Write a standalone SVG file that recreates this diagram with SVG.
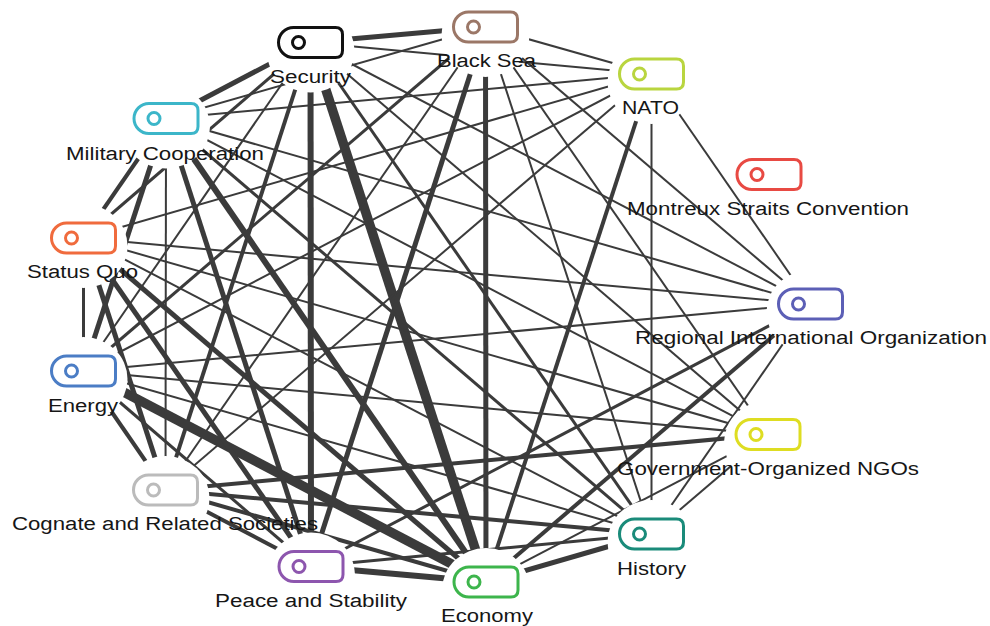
<svg xmlns="http://www.w3.org/2000/svg" width="990" height="626" viewBox="0 0 990 626">
<style>
.lbl{font-family:"Liberation Sans",Arial,sans-serif;font-size:18px;fill:#161616;text-anchor:middle}
.cn line{stroke:#3b3b3b;stroke-linecap:butt}
.w2{stroke-width:2}.w3{stroke-width:3}.w4{stroke-width:4}.w5{stroke-width:5}.w6{stroke-width:6}.w10{stroke-width:9.5}
.tag{fill:none;stroke-width:3}
</style>
<defs>
<g id="tagshape">
<path d="M -17,-15 H 25 Q 32,-15 32,-8 V 8 Q 32,15 25,15 H -17 A 15 15 0 0 1 -17,-15 Z"/>
<circle cx="-12" cy="0" r="6"/>
</g>
<mask id="cut" maskUnits="userSpaceOnUse" x="0" y="0" width="990" height="626">
<rect x="0" y="0" width="990" height="626" fill="#fff"/>
<g fill="#000">
<ellipse cx="310.5" cy="50.5" rx="44" ry="42"/>
<ellipse cx="485.5" cy="35" rx="44" ry="42"/>
<ellipse cx="651.5" cy="82" rx="44" ry="42"/>
<ellipse cx="810.5" cy="312" rx="44" ry="42"/>
<ellipse cx="768" cy="442.5" rx="44" ry="42"/>
<ellipse cx="651.5" cy="542" rx="44" ry="42"/>
<ellipse cx="486" cy="590" rx="44" ry="42"/>
<ellipse cx="311" cy="574.5" rx="44" ry="42"/>
<ellipse cx="165.5" cy="498" rx="44" ry="42"/>
<ellipse cx="83.5" cy="379" rx="44" ry="42"/>
<ellipse cx="83.5" cy="246" rx="44" ry="42"/>
<ellipse cx="166" cy="126.5" rx="44" ry="42"/>
</g>
</mask>
</defs>
<rect width="990" height="626" fill="#fff"/>
<g id="connectors" class="cn" mask="url(#cut)">
<line class="w5" x1="310.5" y1="42.5" x2="485.5" y2="27"/>
<line class="w2" x1="310.5" y1="42.5" x2="651.5" y2="74"/>
<line class="w5" x1="310.5" y1="42.5" x2="166" y2="118.5"/>
<line class="w3" x1="310.5" y1="42.5" x2="83.5" y2="238"/>
<line class="w2" x1="310.5" y1="42.5" x2="83.5" y2="371"/>
<line class="w4" x1="310.5" y1="42.5" x2="165.5" y2="490"/>
<line class="w6" x1="310.5" y1="42.5" x2="311" y2="566.5"/>
<line class="w10" x1="310.5" y1="42.5" x2="486" y2="582"/>
<line class="w3" x1="310.5" y1="42.5" x2="651.5" y2="534"/>
<line class="w2" x1="310.5" y1="42.5" x2="768" y2="434.5"/>
<line class="w2" x1="310.5" y1="42.5" x2="810.5" y2="304"/>
<line class="w2" x1="485.5" y1="27" x2="651.5" y2="74"/>
<line class="w2" x1="485.5" y1="27" x2="166" y2="118.5"/>
<line class="w3" x1="485.5" y1="27" x2="83.5" y2="371"/>
<line class="w2" x1="485.5" y1="27" x2="165.5" y2="490"/>
<line class="w5" x1="485.5" y1="27" x2="311" y2="566.5"/>
<line class="w5" x1="485.5" y1="27" x2="486" y2="582"/>
<line class="w2" x1="485.5" y1="27" x2="651.5" y2="534"/>
<line class="w2" x1="485.5" y1="27" x2="768" y2="434.5"/>
<line class="w2" x1="485.5" y1="27" x2="810.5" y2="304"/>
<line class="w2" x1="651.5" y1="74" x2="166" y2="118.5"/>
<line class="w2" x1="651.5" y1="74" x2="83.5" y2="238"/>
<line class="w2" x1="651.5" y1="74" x2="83.5" y2="371"/>
<line class="w2" x1="651.5" y1="74" x2="165.5" y2="490"/>
<line class="w4" x1="651.5" y1="74" x2="486" y2="582"/>
<line class="w2" x1="651.5" y1="74" x2="651.5" y2="534"/>
<line class="w2" x1="651.5" y1="74" x2="810.5" y2="304"/>
<line class="w2" x1="810.5" y1="304" x2="166" y2="118.5"/>
<line class="w2" x1="810.5" y1="304" x2="83.5" y2="238"/>
<line class="w2" x1="810.5" y1="304" x2="83.5" y2="371"/>
<line class="w3" x1="810.5" y1="304" x2="311" y2="566.5"/>
<line class="w4" x1="810.5" y1="304" x2="486" y2="582"/>
<line class="w2" x1="810.5" y1="304" x2="651.5" y2="534"/>
<line class="w2" x1="768" y1="434.5" x2="166" y2="118.5"/>
<line class="w2" x1="768" y1="434.5" x2="83.5" y2="238"/>
<line class="w2" x1="768" y1="434.5" x2="83.5" y2="371"/>
<line class="w4" x1="768" y1="434.5" x2="165.5" y2="490"/>
<line class="w2" x1="768" y1="434.5" x2="486" y2="582"/>
<line class="w2" x1="768" y1="434.5" x2="651.5" y2="534"/>
<line class="w4" x1="651.5" y1="534" x2="165.5" y2="490"/>
<line class="w5" x1="651.5" y1="534" x2="486" y2="582"/>
<line class="w3" x1="651.5" y1="534" x2="311" y2="566.5"/>
<line class="w2" x1="651.5" y1="534" x2="83.5" y2="371"/>
<line class="w2" x1="651.5" y1="534" x2="83.5" y2="238"/>
<line class="w3" x1="651.5" y1="534" x2="166" y2="118.5"/>
<line class="w6" x1="486" y1="582" x2="166" y2="118.5"/>
<line class="w5" x1="486" y1="582" x2="83.5" y2="238"/>
<line class="w10" x1="486" y1="582" x2="83.5" y2="371"/>
<line class="w4" x1="486" y1="582" x2="165.5" y2="490"/>
<line class="w6" x1="486" y1="582" x2="311" y2="566.5"/>
<line class="w5" x1="311" y1="566.5" x2="166" y2="118.5"/>
<line class="w5" x1="311" y1="566.5" x2="83.5" y2="238"/>
<line class="w3" x1="311" y1="566.5" x2="83.5" y2="371"/>
<line class="w4" x1="311" y1="566.5" x2="165.5" y2="490"/>
<line class="w2" x1="165.5" y1="490" x2="166" y2="118.5"/>
<line class="w5" x1="165.5" y1="490" x2="83.5" y2="238"/>
<line class="w4" x1="165.5" y1="490" x2="83.5" y2="371"/>
<line class="w5" x1="83.5" y1="371" x2="166" y2="118.5"/>
<line class="w3" x1="83.5" y1="371" x2="83.5" y2="238"/>
<line class="w4" x1="83.5" y1="238" x2="166" y2="118.5"/>
</g>
<g id="node-security"><use href="#tagshape" class="tag" stroke="#111111" transform="translate(310.5,42.5)"/><text class="lbl" x="310.5" y="83" textLength="81" lengthAdjust="spacingAndGlyphs">Security</text></g>
<g id="node-black-sea"><use href="#tagshape" class="tag" stroke="#9b7767" transform="translate(485.5,27)"/><text class="lbl" x="486.5" y="67" textLength="99" lengthAdjust="spacingAndGlyphs">Black Sea</text></g>
<g id="node-nato"><use href="#tagshape" class="tag" stroke="#b9d53f" transform="translate(651.5,74)"/><text class="lbl" x="650.5" y="114" textLength="57" lengthAdjust="spacingAndGlyphs">NATO</text></g>
<g id="node-montreux"><use href="#tagshape" class="tag" stroke="#e84a43" transform="translate(769,174.5)"/><text class="lbl" x="768" y="215" textLength="282" lengthAdjust="spacingAndGlyphs">Montreux Straits Convention</text></g>
<g id="node-regional"><use href="#tagshape" class="tag" stroke="#5c5fb6" transform="translate(810.5,304)"/><text class="lbl" x="811" y="344" textLength="352" lengthAdjust="spacingAndGlyphs">Regional International Organization</text></g>
<g id="node-gongo"><use href="#tagshape" class="tag" stroke="#dedd22" transform="translate(768,434.5)"/><text class="lbl" x="768" y="475" textLength="302" lengthAdjust="spacingAndGlyphs">Government-Organized NGOs</text></g>
<g id="node-history"><use href="#tagshape" class="tag" stroke="#1a8b7a" transform="translate(651.5,534)"/><text class="lbl" x="651.5" y="575" textLength="69" lengthAdjust="spacingAndGlyphs">History</text></g>
<g id="node-economy"><use href="#tagshape" class="tag" stroke="#3db54c" transform="translate(486,582)"/><text class="lbl" x="487" y="622" textLength="92" lengthAdjust="spacingAndGlyphs">Economy</text></g>
<g id="node-peace"><use href="#tagshape" class="tag" stroke="#8d56ae" transform="translate(311,566.5)"/><text class="lbl" x="311" y="607" textLength="192" lengthAdjust="spacingAndGlyphs">Peace and Stability</text></g>
<g id="node-cognate"><use href="#tagshape" class="tag" stroke="#bbbbbb" transform="translate(165.5,490)"/><text class="lbl" x="165" y="530" textLength="306" lengthAdjust="spacingAndGlyphs">Cognate and Related Societies</text></g>
<g id="node-energy"><use href="#tagshape" class="tag" stroke="#4b7dc5" transform="translate(83.5,371)"/><text class="lbl" x="83" y="412" textLength="70" lengthAdjust="spacingAndGlyphs">Energy</text></g>
<g id="node-status-quo"><use href="#tagshape" class="tag" stroke="#f06b3d" transform="translate(83.5,238)"/><text class="lbl" x="82.5" y="278" textLength="111" lengthAdjust="spacingAndGlyphs">Status Quo</text></g>
<g id="node-military"><use href="#tagshape" class="tag" stroke="#3cb6c9" transform="translate(166,118.5)"/><text class="lbl" x="165" y="160" textLength="198" lengthAdjust="spacingAndGlyphs">Military Cooperation</text></g>
</svg>
